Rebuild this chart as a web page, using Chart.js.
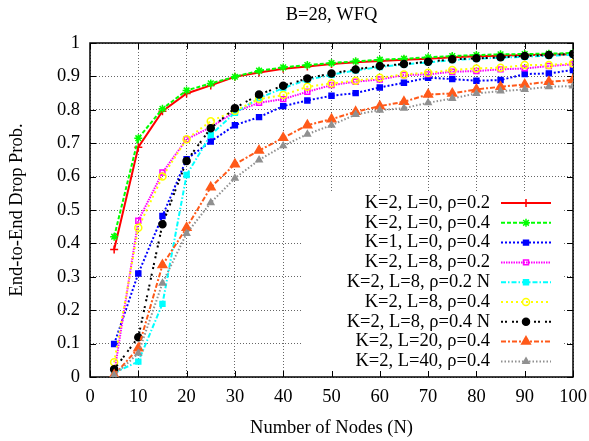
<!DOCTYPE html>
<html>
<head>
<meta charset="utf-8">
<title>B=28, WFQ</title>
<script src="https://cdn.jsdelivr.net/npm/chart.js@4.4.0/dist/chart.umd.min.js"></script>
<style>
  body { margin: 0; background: #fff; }
  canvas { display: block; }
</style>
</head>
<body>
<canvas id="chart" width="589" height="441"></canvas>
<script>
// x = number of nodes
const nodes = [5, 10, 15, 20, 25, 30, 35, 40, 45, 50, 55, 60, 65, 70, 75, 80, 85, 90, 95, 100];

const k2L0r02 = [0.382, 0.688, 0.796, 0.849, 0.873, 0.899, 0.912, 0.923, 0.930, 0.937, 0.942, 0.946, 0.950, 0.953, 0.957, 0.960, 0.962, 0.964, 0.965, 0.966];
const k2L0r04 = [0.420, 0.715, 0.803, 0.858, 0.879, 0.899, 0.917, 0.927, 0.934, 0.940, 0.945, 0.950, 0.953, 0.957, 0.961, 0.964, 0.966, 0.967, 0.968, 0.970];
const k1L0r04 = [0.099, 0.310, 0.482, 0.652, 0.705, 0.754, 0.778, 0.811, 0.828, 0.842, 0.850, 0.867, 0.881, 0.896, 0.892, 0.887, 0.889, 0.907, 0.909, 0.919];
const k2L8r02 = [0.011, 0.468, 0.612, 0.712, 0.748, 0.794, 0.821, 0.832, 0.854, 0.874, 0.884, 0.891, 0.904, 0.906, 0.914, 0.916, 0.921, 0.924, 0.931, 0.936];
const k2L8r02N = [0.013, 0.046, 0.219, 0.605, 0.725, 0.791, 0.835, 0.865, 0.890, 0.905, 0.918, 0.928, 0.936, 0.942, 0.949, 0.953, 0.956, 0.959, 0.962, 0.965];
const k2L8r04 = [0.044, 0.447, 0.600, 0.712, 0.766, 0.797, 0.832, 0.844, 0.869, 0.879, 0.887, 0.896, 0.906, 0.911, 0.919, 0.924, 0.926, 0.934, 0.934, 0.939];
const k2L8r04N = [0.023, 0.119, 0.457, 0.647, 0.745, 0.805, 0.846, 0.872, 0.894, 0.909, 0.921, 0.931, 0.937, 0.944, 0.951, 0.954, 0.957, 0.961, 0.964, 0.967];
const k2L20r04 = [0.006, 0.086, 0.335, 0.447, 0.568, 0.637, 0.678, 0.716, 0.754, 0.772, 0.794, 0.811, 0.824, 0.846, 0.849, 0.861, 0.869, 0.876, 0.884, 0.889];
const k2L40r04 = [0.005, 0.071, 0.281, 0.430, 0.522, 0.595, 0.650, 0.692, 0.727, 0.754, 0.786, 0.799, 0.805, 0.821, 0.834, 0.849, 0.856, 0.861, 0.869, 0.871];

const xTicks = [0, 10, 20, 30, 40, 50, 60, 70, 80, 90, 100];
const yTicks = [0, 0.1, 0.2, 0.3, 0.4, 0.5, 0.6, 0.7, 0.8, 0.9, 1];
const yTickLabels = ['0', '0.1', '0.2', '0.3', '0.4', '0.5', '0.6', '0.7', '0.8', '0.9', '1'];

const FONT = "'Liberation Serif', 'DejaVu Serif', serif";
const FSIZE = 18.5;

function series(label, values, color, dash, style, radius, fill) {
  return {
    label: label,
    data: nodes.map((n, i) => ({ x: n, y: values[i] })),
    borderColor: color,
    borderWidth: 2,
    borderDash: dash,
    pointStyle: style,
    pointRadius: radius,
    pointBorderWidth: 1.5,
    pointBorderColor: color,
    pointBackgroundColor: fill ? color : 'rgba(0,0,0,0)',
    tension: 0
  };
}

const datasets = [
  series('K=2, L=0, \u03c1=0.2', k2L0r02, '#ff0000', [], 'cross', 4, true),
  series('K=2, L=0, \u03c1=0.4', k2L0r04, '#00ff00', [4, 2], 'star', 4, true),
  series('K=1, L=0, \u03c1=0.4', k1L0r04, '#0000ff', [2, 2], 'rect', 3.5, true),
  series('K=2, L=8, \u03c1=0.2', k2L8r02, '#ff00ff', [1.5, 1], 'rect', 3.5, false),
  series('K=2, L=8, \u03c1=0.2 N', k2L8r02N, '#00ffff', [5, 2, 1.5, 2], 'rect', 3.5, true),
  series('K=2, L=8, \u03c1=0.4', k2L8r04, '#ffff00', [2, 3], 'circle', 3.5, false),
  series('K=2, L=8, \u03c1=0.4 N', k2L8r04N, '#000000', [2, 2, 2, 5], 'circle', 3.5, true),
  series('K=2, L=20, \u03c1=0.4', k2L20r04, '#ff5a1a', [5, 2, 2, 2], 'triangle', 5, true),
  series('K=2, L=40, \u03c1=0.4', k2L40r04, '#909090', [1.5, 2], 'triangle', 3.5, true)
];
// gnuplot draws later curves on top
datasets.forEach((d, i) => { d.order = datasets.length - i; });

const gnuplotLook = {
  id: 'gnuplotLook',
  beforeDatasetsDraw(chart) {
    const { ctx, chartArea: a, scales: { x, y } } = chart;
    ctx.save();
    // key area hides the grid
    ctx.fillStyle = '#fff';
    ctx.fillRect(a.left + 213, a.top + 150, 259, a.bottom - a.top - 150);
    // inward tick marks on all sides
    ctx.strokeStyle = '#000';
    ctx.lineWidth = 1;
    ctx.beginPath();
    xTicks.forEach(v => {
      const px = Math.round(x.getPixelForValue(v)) + 0.5;
      ctx.moveTo(px, a.bottom); ctx.lineTo(px, a.bottom - 6);
      ctx.moveTo(px, a.top); ctx.lineTo(px, a.top + 6);
    });
    yTicks.forEach(v => {
      const py = Math.round(y.getPixelForValue(v)) + 0.5;
      ctx.moveTo(a.left, py); ctx.lineTo(a.left + 6, py);
      ctx.moveTo(a.right, py); ctx.lineTo(a.right - 6, py);
    });
    ctx.stroke();
    ctx.lineWidth = 1.5;
    ctx.strokeRect(a.left, a.top, a.right - a.left, a.bottom - a.top);
    ctx.restore();
  },
  afterDatasetsDraw(chart) {
    const { ctx, chartArea: a } = chart;
    ctx.save();
    // title
    ctx.fillStyle = '#000';
    ctx.font = FSIZE + 'px ' + FONT;
    ctx.textAlign = 'center';
    ctx.textBaseline = 'middle';
    ctx.fillText('B=28, WFQ', (a.left + a.right) / 2, 15);
    // key
    const textRight = a.right - 83;
    const x0 = a.right - 72, x1 = a.right - 22, xm = a.right - 47;
    chart.data.datasets.forEach((d, i) => {
      const ry = a.top + 160 + i * 19.8;
      ctx.fillStyle = '#000';
      ctx.textAlign = 'right';
      ctx.fillText(d.label, textRight, ry);
      ctx.strokeStyle = d.borderColor;
      ctx.lineWidth = d.borderWidth;
      ctx.setLineDash(d.borderDash);
      ctx.beginPath();
      ctx.moveTo(x0, ry); ctx.lineTo(x1, ry);
      ctx.stroke();
      ctx.setLineDash([]);
      ctx.fillStyle = d.pointBackgroundColor;
      ctx.lineWidth = d.pointBorderWidth;
      Chart.helpers.drawPoint(ctx, {
        pointStyle: d.pointStyle, rotation: 0,
        radius: d.pointRadius, borderWidth: d.pointBorderWidth
      }, xm, ry);
    });
    ctx.restore();
  }
};

new Chart(document.getElementById('chart'), {
  type: 'line',
  data: { datasets: datasets },
  options: {
    responsive: false,
    animation: false,
    layout: { padding: { top: 43, right: 16, left: 0, bottom: 0 } },
    plugins: {
      legend: { display: false },
      title: { display: false },
      tooltip: { enabled: false }
    },
    scales: {
      x: {
        type: 'linear',
        min: 0,
        max: 100,
        afterFit: s => { s.height = 64; s.paddingLeft = 0; s.paddingRight = 0; },
        afterBuildTicks: s => { s.ticks = xTicks.map(v => ({ value: v })); },
        ticks: { color: '#000', font: { family: FONT, size: FSIZE }, padding: 9, maxRotation: 0 },
        grid: { color: '#666', lineWidth: 1, drawTicks: false },
        border: { display: false, dash: [1, 2] },
        title: { display: true, text: 'Number of Nodes (N)', color: '#000', font: { family: FONT, size: FSIZE }, padding: { top: 0, bottom: 2 } }
      },
      y: {
        type: 'linear',
        min: 0,
        max: 1,
        afterFit: s => { s.width = 90; s.paddingTop = 0; s.paddingBottom = 0; },
        afterBuildTicks: s => { s.ticks = yTicks.map(v => ({ value: v })); },
        ticks: {
          color: '#000', font: { family: FONT, size: FSIZE }, padding: 10,
          callback: v => yTickLabels[yTicks.indexOf(v)]
        },
        grid: { color: '#666', lineWidth: 1, drawTicks: false },
        border: { display: false, dash: [1, 2] },
        title: { display: true, text: 'End-to-End Drop Prob.', color: '#000', font: { family: FONT, size: FSIZE }, padding: { top: 6.5, bottom: 0 } }
      }
    }
  },
  plugins: [gnuplotLook]
});
</script>
</body>
</html>
